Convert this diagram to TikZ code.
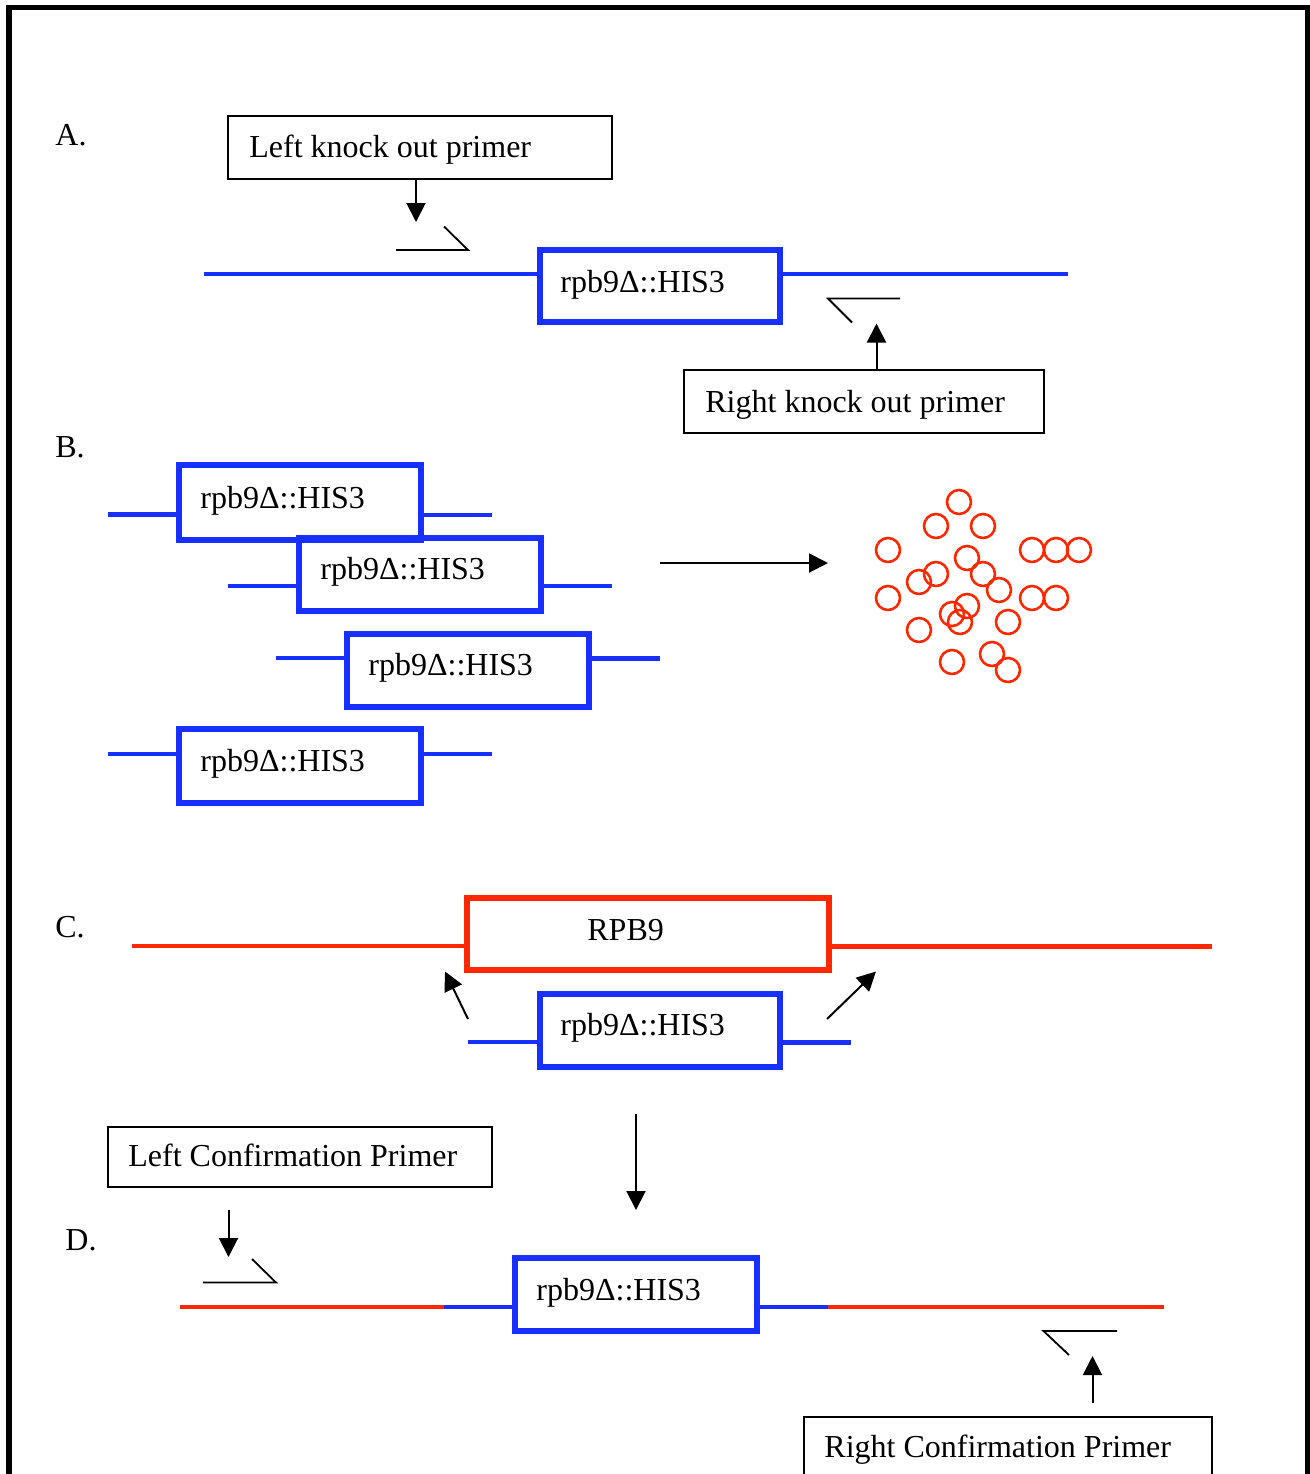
\documentclass[tikz,border=0pt]{standalone}
\usepackage{fontspec}
\setmainfont{Liberation Serif}
\usetikzlibrary{arrows.meta}
\definecolor{dnablue}{RGB}{24,48,255}
\definecolor{dnared}{RGB}{255,40,0}
\begin{document}
\begin{tikzpicture}[x=0.5pt,y=-0.5pt,
  every node/.style={font=\fontsize{16pt}{19pt}\selectfont},
  txt/.style={anchor=base west,inner sep=0pt},
  blackbox/.style={draw=black,line width=1pt,inner sep=0pt},
  bluebox/.style={draw=dnablue,line width=3pt,inner sep=0pt,minimum width=121pt,minimum height=36.5pt},
  redbox/.style={draw=dnared,line width=3pt,inner sep=0pt},
  blueline/.style={draw=dnablue,line width=2.4pt},
  redline/.style={draw=dnared,line width=2.4pt},
  primer/.style={draw=black,line width=0.9pt},
  arr/.style={draw=black,line width=1pt,-{Triangle[length=9.5pt,width=9.5pt]}},
  colony/.style={draw=dnared,line width=1.3pt}]
\clip (0,0) rectangle (1310,1474);
\fill[white] (0,0) rectangle (1310,1474);
% frame
\draw[line width=2.6pt] (6,7.5) -- (1310,7.5);
\draw[line width=3pt] (9,5) -- (9,1474);
\draw[line width=2.2pt] (1307.5,5) -- (1307.5,1474);

% ---------------- A ----------------
\node[txt] (la) at (55,145) {A.};
\node[blackbox,minimum width=192pt,minimum height=31.5pt] (lko) at (420,147.5) {};
\node[txt] (lkot) at (249,157) {Left knock out primer};
\coordinate (lkotip) at (416,222);
\draw[arr] (lko.south -| lkotip) -- (lkotip);
\draw[primer] (396,250) -- (468,250) -- (444,226.5);

\node[bluebox,minimum width=120pt,minimum height=36pt] (ba) at (660,286) {};
\node[txt] at (560,292) {rpb9Δ::HIS3};
\coordinate (bal) at (204,274);
\coordinate (bar) at (1068,274);
\draw[blueline] (bal) -- (bal -| ba.west);
\draw[blueline] (ba.east |- bar) -- (bar);

\draw[primer] (900,298.5) -- (828,298.5) -- (852,322.5);
\node[blackbox,minimum width=180pt,minimum height=31.5pt] (rko) at (864,401.5) {};
\node[txt] at (705,412) {Right knock out primer};
\coordinate (rkotip) at (876.5,323.5);
\draw[arr] (rko.north -| rkotip) -- (rkotip);

% ---------------- B ----------------
\node[txt] (lb) at (55,457) {B.};
\node[bluebox,minimum height=37.5pt] (b1) at (300,502.5) {};
\node[txt] at (200,508) {rpb9Δ::HIS3};
\coordinate (b1l) at (108,514.5);
\coordinate (b1r) at (492,515);
\draw[blueline] (b1l) -- (b1l -| b1.west);
\draw[blueline] (b1.east |- b1r) -- (b1r);

\node[bluebox] (b2) at (420,574.5) {};
\node[txt] at (320,579) {rpb9Δ::HIS3};
\coordinate (b2l) at (228,586);
\coordinate (b2r) at (612,586);
\draw[blueline] (b2l) -- (b2l -| b2.west);
\draw[blueline] (b2.east |- b2r) -- (b2r);

\node[bluebox] (b3) at (468,670.5) {};
\node[txt] at (368,675) {rpb9Δ::HIS3};
\coordinate (b3l) at (276,658);
\coordinate (b3r) at (660,658.5);
\draw[blueline] (b3l) -- (b3l -| b3.west);
\draw[blueline] (b3.east |- b3r) -- (b3r);

\node[bluebox,minimum height=37pt] (b4) at (300,766) {};
\node[txt] at (200,771) {rpb9Δ::HIS3};
\coordinate (b4l) at (108,754);
\coordinate (b4r) at (492,754);
\draw[blueline] (b4l) -- (b4l -| b4.west);
\draw[blueline] (b4.east |- b4r) -- (b4r);

\coordinate (bas) at (660,563);
\coordinate (bat) at (828,563);
\draw[arr] (bas) -- (bat);

% colonies
\foreach \cx/\cy in {959/502, 936/526, 983/526, 888/550, 1032/550, 1056/550, 1079/550,
  967/558, 936/574, 983/574, 919/582, 999/590, 888/598, 1032/598, 1056/598,
  960/622, 967/606, 952/614, 1008/622, 919/630, 952/662, 992/654, 1008/670}
  \draw[colony] (\cx,\cy) circle[radius=6pt];

% ---------------- C ----------------
\node[txt] (lc) at (55,937) {C.};
\node[redbox,minimum width=181pt,minimum height=36pt] (rp) at (648,934) {};
\node[txt] at (587,940) {RPB9};
\coordinate (rpl) at (132,946);
\coordinate (rpr) at (1212,946.5);
\draw[redline] (rpl) -- (rpl -| rp.west);
\draw[redline] (rp.east |- rpr) -- (rpr);

\node[bluebox,minimum width=120pt] (bc) at (660,1030.5) {};
\node[txt] at (560,1035) {rpb9Δ::HIS3};
\coordinate (bcl) at (468,1042);
\coordinate (bcr) at (851,1042.5);
\draw[blueline] (bcl) -- (bcl -| bc.west);
\draw[blueline] (bc.east |- bcr) -- (bcr);

\coordinate (cla) at (468,1019);
\coordinate (clb) at (445,971.5);
\coordinate (cra) at (827,1019);
\coordinate (crb) at (876,971.5);
\draw[arr] (cla) -- (clb);
\draw[arr] (cra) -- (crb);
\coordinate (cda) at (636,1114);
\coordinate (cdb) at (636,1210);
\draw[arr] (cda) -- (cdb);

% ---------------- D ----------------
\node[blackbox,minimum width=192pt,minimum height=30pt] (lcp) at (300,1157) {};
\node[txt] at (128,1166) {Left Confirmation Primer};
\node[txt] (ld) at (65,1250) {D.};
\coordinate (lca) at (228.5,1210);
\coordinate (lcb) at (228.5,1257);
\draw[arr] (lca) -- (lcb);
\draw[primer] (203,1282.5) -- (276,1282.5) -- (252,1259);

\node[bluebox] (bd) at (636,1294.5) {};
\node[txt] at (536,1300) {rpb9Δ::HIS3};
\coordinate (dl) at (180,1307);
\coordinate (dlj) at (444,1307);
\coordinate (drj) at (828,1307);
\coordinate (dr) at (1164,1307);
\draw[blueline] (dlj) -- (dlj -| bd.west);
\draw[redline] (dl) -- (dlj);
\draw[blueline] (bd.east |- drj) -- (drj);
\draw[redline] (drj) -- (dr);

\draw[primer] (1117,1331) -- (1043.5,1331) -- (1069,1355);
\coordinate (rca) at (1092.5,1403);
\coordinate (rcb) at (1092.5,1356);
\draw[arr] (rca) -- (rcb);
\node[blackbox,minimum width=204pt,minimum height=36.5pt] (rcp) at (1008,1453.5) {};
\node[txt] at (824,1457) {Right Confirmation Primer};
\end{tikzpicture}
\end{document}
